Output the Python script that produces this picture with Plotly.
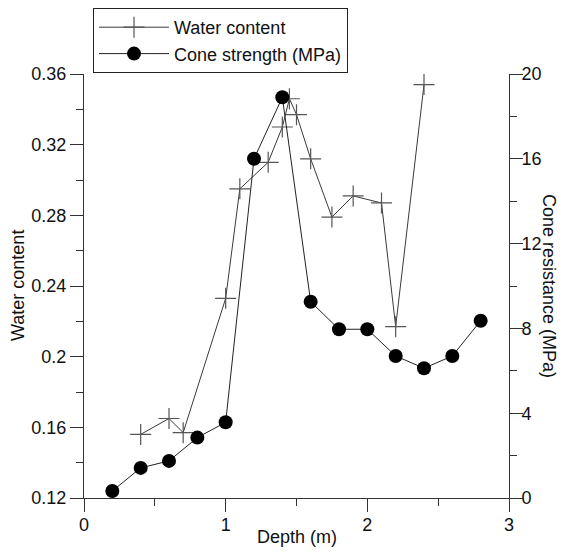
import plotly.graph_objects as go

# Water content (left axis)
wc_depth = [0.4, 0.6, 0.7, 1.0, 1.1, 1.3, 1.4, 1.45, 1.5, 1.6, 1.75, 1.9, 2.1, 2.2, 2.4]
wc_value = [0.156, 0.165, 0.157, 0.233, 0.295, 0.310, 0.330, 0.346, 0.337, 0.312, 0.279, 0.291, 0.287, 0.217, 0.354]

# Cone strength (right axis, MPa)
cs_depth = [0.2, 0.4, 0.6, 0.8, 1.0, 1.2, 1.4, 1.6, 1.8, 2.0, 2.2, 2.4, 2.6, 2.8]
cs_value = [0.33, 1.42, 1.75, 2.85, 3.57, 16.0, 18.9, 9.26, 7.96, 7.96, 6.70, 6.12, 6.70, 8.36]

x_ticks = [0, 1, 2, 3]
y_left_ticks = [0.12, 0.16, 0.2, 0.24, 0.28, 0.32, 0.36]
y_left_labels = ["0.12", "0.16", "0.2", "0.24", "0.28", "0.32", "0.36"]
y_right_ticks = [0, 4, 8, 12, 16, 20]

FONT = "Liberation Sans, Arial, sans-serif"
AX = "#333333"
FS = 18

fig = go.Figure()
fig.add_trace(go.Scatter(
    x=wc_depth, y=wc_value, name="Water content", mode="lines+markers",
    line=dict(color="#3a3a3a", width=1),
    marker=dict(symbol="cross-thin", size=15, line=dict(color="#555555", width=1.2)),
    yaxis="y",
))
fig.add_trace(go.Scatter(
    x=cs_depth, y=cs_value, name="Cone strength (MPa)", mode="lines+markers",
    line=dict(color="#222222", width=1),
    marker=dict(symbol="circle", size=14, color="black"),
    yaxis="y2",
))

common = dict(showline=True, linecolor=AX, linewidth=1, ticks="outside",
              tickcolor=AX, ticklen=13, tickwidth=1, showgrid=False, zeroline=False,
              automargin=False,
              tickfont=dict(family=FONT, size=FS, color="#111"))

# page body has an 8px offset, so the figure is shrunk/shifted to compensate
fig.update_layout(
    width=560, height=544,
    margin=dict(l=76, r=59, t=66, b=54, autoexpand=False),
    paper_bgcolor="white", plot_bgcolor="white",
    font=dict(family=FONT, size=FS, color="#111"),
    xaxis=dict(range=[0, 3], tickvals=x_ticks,
               minor=dict(dtick=0.5, ticklen=7, tickcolor=AX, ticks="outside"),
               ticklabelstandoff=-3,
               **common),
    yaxis=dict(range=[0.12, 0.36], tickvals=y_left_ticks, ticktext=y_left_labels,
               minor=dict(dtick=0.02, tick0=0.12, ticklen=7, tickcolor=AX, ticks="outside"),
               **common),
    yaxis2=dict(range=[0, 20], tickvals=y_right_ticks, overlaying="y", side="right",
                minor=dict(dtick=2, ticklen=7, tickcolor=AX, ticks="outside"),
                ticklabelstandoff=-5,
                **common),
    legend=dict(x=(93 - 84) / 425, y=(498 - 8) / 424, xanchor="left", yanchor="top",
                bordercolor="#222", borderwidth=1, bgcolor="white",
                font=dict(family=FONT, size=FS), itemwidth=70, tracegroupgap=0),
    showlegend=True,
)

fig.add_annotation(text="Depth (m)", xref="paper", yref="paper", x=0.5, y=0,
                   xanchor="center", yanchor="middle", yshift=-39, showarrow=False,
                   font=dict(family=FONT, size=FS))
fig.add_annotation(text="Water content", xref="paper", yref="paper", x=0, y=0.5,
                   xanchor="center", yanchor="middle",
                   xshift=-66, textangle=-90, showarrow=False,
                   font=dict(family=FONT, size=FS))
fig.add_annotation(text="Cone resistance (MPa)", xref="paper", yref="paper", x=1, y=0.5,
                   xanchor="center", yanchor="middle",
                   xshift=40, textangle=90, showarrow=False,
                   font=dict(family=FONT, size=FS))

fig.write_html("out.html")
